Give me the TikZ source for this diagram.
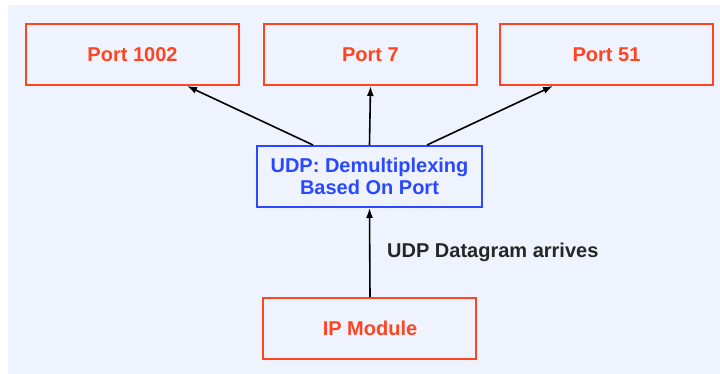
\documentclass[tikz,border=0pt]{standalone}
\usepackage{fontspec}
\setmainfont{Liberation Sans}
\usetikzlibrary{arrows.meta}
\definecolor{portred}{HTML}{FF4422}
\definecolor{udpblue}{HTML}{2A48FF}
\definecolor{bgblue}{HTML}{EFF3FD}
\tikzset{portbox/.style={draw=portred, line width=1pt, text=portred, font=\bfseries, minimum width=106.5pt, minimum height=30.5pt},
  udpbox/.style={draw=udpblue, line width=1pt, text=udpblue, font=\bfseries, align=center, minimum width=112.5pt, minimum height=30.5pt, inner sep=1pt},
  flow/.style={-{Latex[length=5pt,width=3.5pt]}, line width=0.8pt}}

\begin{document}
\begin{tikzpicture} [x=0.5pt, y=-0.5pt]
        \useasboundingbox (0,0) rectangle (720,374);
        \fill[bgblue] (8,5) rectangle (720,374);
        % ports on top
        \node[portbox] (p1002) at (132.5,54.5) {Port 1002}; \node[portbox] (p7) at (370.5,54.5) {Port 7}; \node[portbox] (p51) at (606.5,54.5) {Port 51};
        % demultiplexer and IP module
        \node[udpbox] (udp) at (369.5,176.5) {UDP: Demultiplexing\\[-1pt]Based On Port};
        \node[portbox] (ip) at (370,328.5) {IP Module};
        \draw[flow] ([xshift=-28.25pt]udp.north) -- ([xshift=27.25pt]p1002.south); \draw[flow] (udp.north) -- (p7.south); \draw[flow] ([xshift=28.75pt]udp.north) -- ([xshift=-26.75pt]p51.south);
        \draw[flow] (ip.north) -- node[right=5pt, font=\bfseries, text=black!85] {UDP Datagram arrives} (udp.south);
    \end{tikzpicture}
\end{document}
